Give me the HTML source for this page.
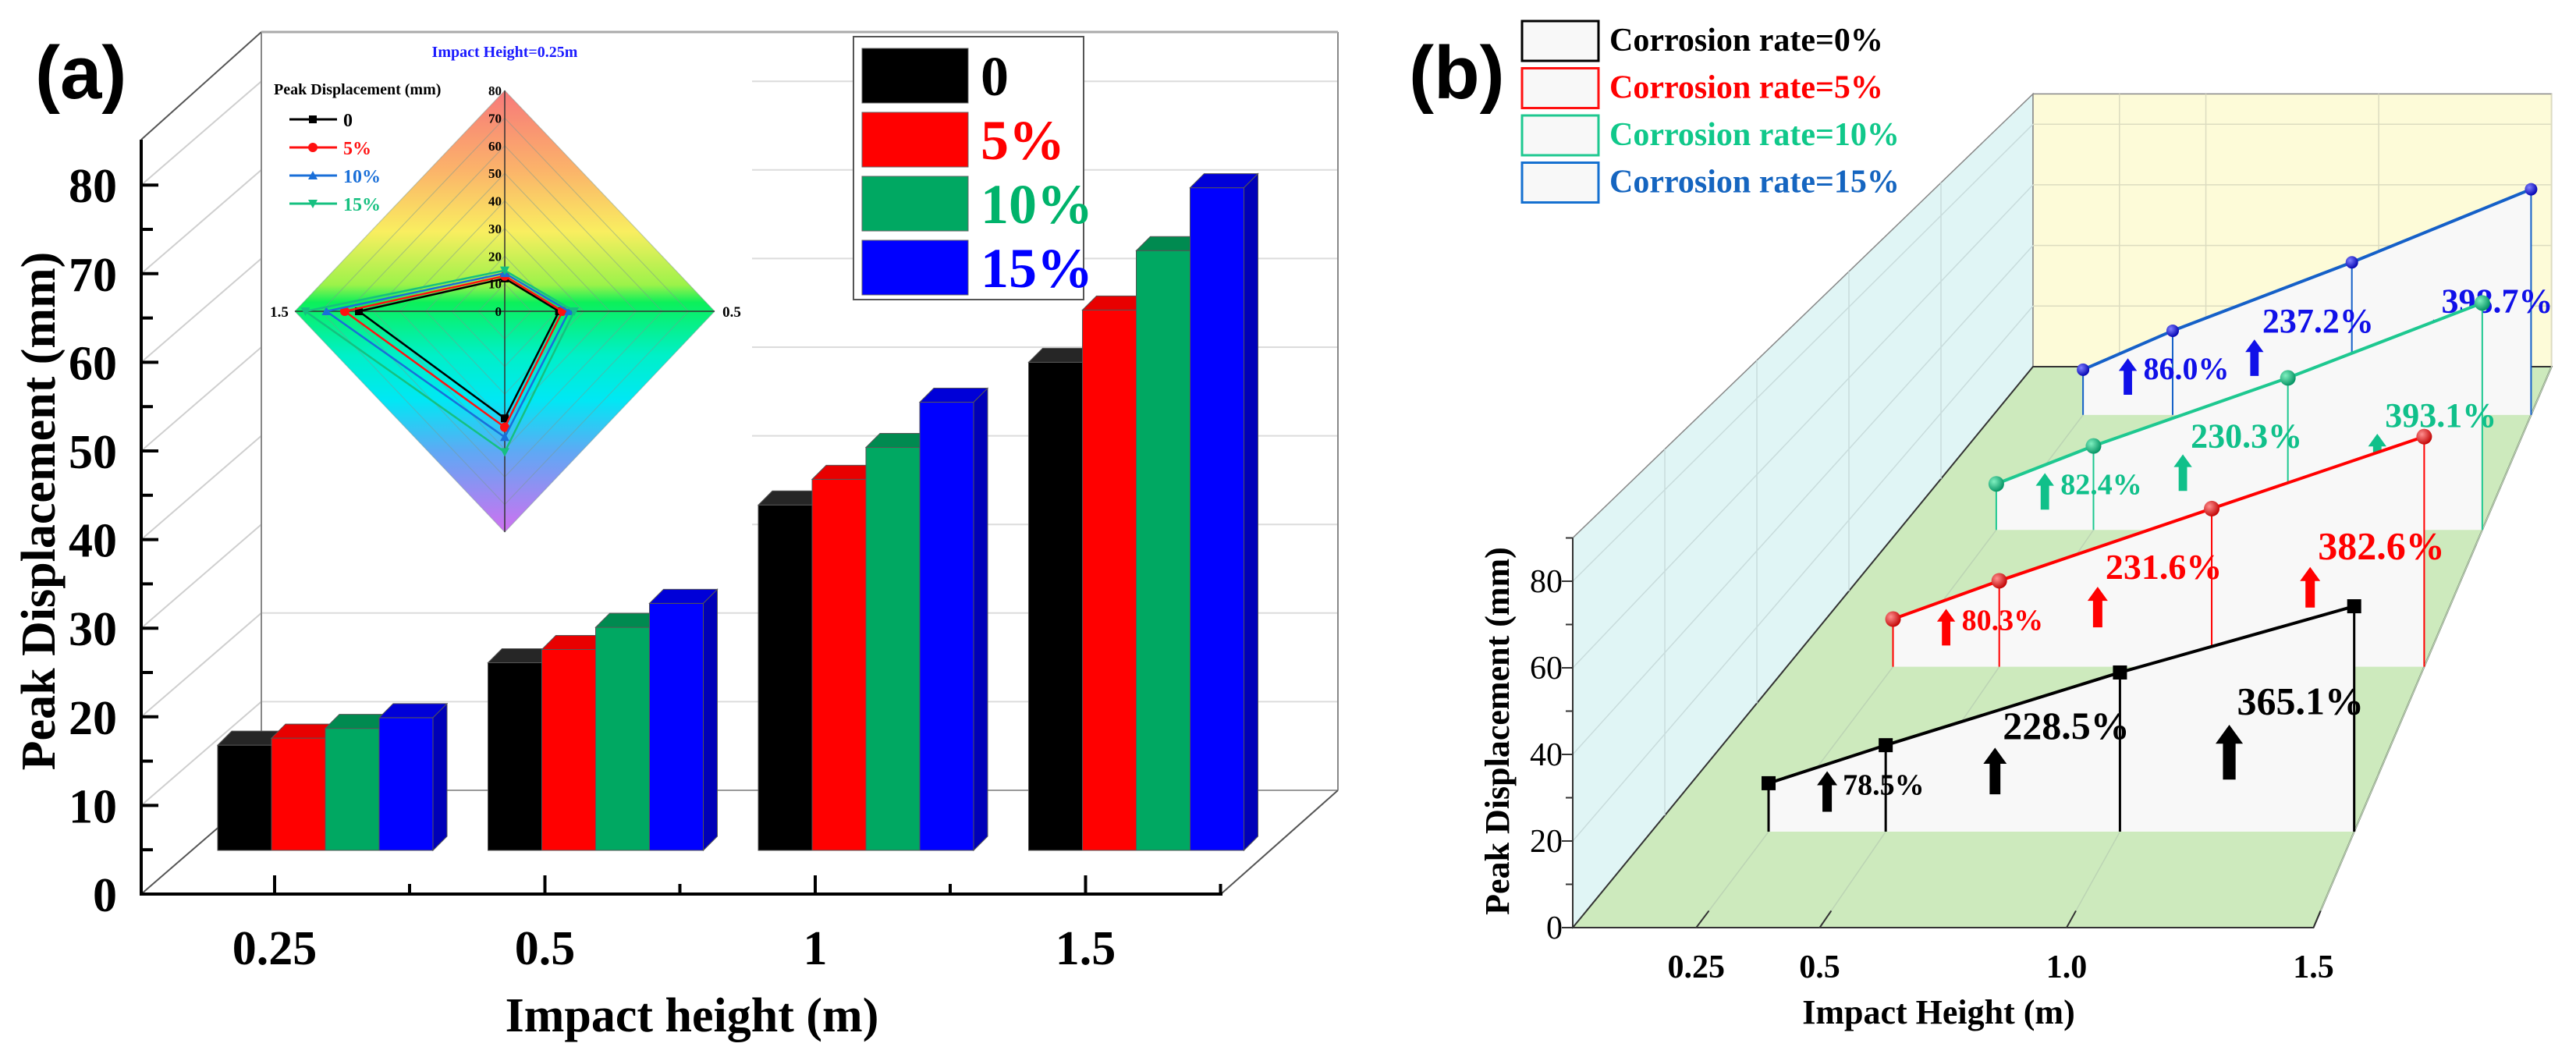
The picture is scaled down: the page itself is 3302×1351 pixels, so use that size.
<!DOCTYPE html>
<html><head><meta charset="utf-8"><style>
html,body{margin:0;padding:0;background:#fff}
svg{display:block}
text{font-family:"Liberation Serif",serif;font-weight:bold}
</style></head><body>
<svg id="fig" width="3302" height="1351" viewBox="0 0 3302 1351" xmlns="http://www.w3.org/2000/svg">
<defs>
<linearGradient id="radarGrad" x1="0" y1="0" x2="0" y2="1">
<stop offset="0" stop-color="#f7787a"/><stop offset="0.18" stop-color="#fbb36a"/>
<stop offset="0.32" stop-color="#f9ee60"/><stop offset="0.44" stop-color="#9cf24a"/>
<stop offset="0.48" stop-color="#0cf05a"/><stop offset="0.6" stop-color="#00f0c8"/>
<stop offset="0.7" stop-color="#00e8f4"/><stop offset="0.82" stop-color="#60a8f4"/>
<stop offset="1" stop-color="#d070f0"/></linearGradient>
<radialGradient id="sphBlue" cx="0.35" cy="0.35" r="0.7"><stop offset="0" stop-color="#8080ff"/><stop offset="1" stop-color="#0000b0"/></radialGradient>
<radialGradient id="sphGreen" cx="0.35" cy="0.35" r="0.7"><stop offset="0" stop-color="#80f0c0"/><stop offset="1" stop-color="#009060"/></radialGradient>
<radialGradient id="sphRed" cx="0.35" cy="0.35" r="0.7"><stop offset="0" stop-color="#ff9090"/><stop offset="1" stop-color="#c00000"/></radialGradient>
</defs>
<g id="panelA"></g>
<g id="panelB"></g>
</svg>
<script>
// ---------- Panel (a) data ----------
const barCategories = ['0.25', '0.5', '1', '1.5'];
const barSeriesNames = ['0', '5%', '10%', '15%'];
const bar0 = [16.8, 26.1, 43.9, 60.0];
const bar5 = [17.6, 27.6, 46.8, 65.9];
const bar10 = [18.7, 30.1, 50.4, 72.6];
const bar15 = [19.9, 32.8, 55.5, 79.7];
const barYTicks = [0, 10, 20, 30, 40, 50, 60, 70, 80];
// radar inset (axes: top=0.25, right=0.5, bottom=1, left=1.5)
const radarAxes = ['0.25', '0.5', '1', '1.5'];
const radar0 = [11.9, 20.7, 38.8, 55.6];
const radar5 = [12.8, 22.0, 42.0, 61.0];
const radar10 = [13.8, 24.5, 45.6, 68.0];
const radar15 = [14.8, 26.5, 51.0, 76.0];
const radarTicks = [0, 10, 20, 30, 40, 50, 60, 70, 80];
// ---------- Panel (b) data ----------
const lineX = [0.25, 0.5, 1.0, 1.5];
const line0 = [11.8, 21.06, 38.76, 54.88];
const line5 = [12.8, 23.08, 42.45, 61.77];
const line10 = [13.5, 24.62, 44.59, 66.57];
const line15 = [14.4, 26.78, 48.56, 71.81];
const lineLabels0 = ['78.5%', '228.5%', '365.1%'];
const lineLabels5 = ['80.3%', '231.6%', '382.6%'];
const lineLabels10 = ['82.4%', '230.3%', '393.1%'];
const lineLabels15 = ['86.0%', '237.2%', '398.7%'];
const lineYTicks = [0, 20, 40, 60, 80];
const lineXTicks = [0.25, 0.5, 1.0, 1.5];
const lineXTickLabels = ['0.25', '0.5', '1.0', '1.5'];

const NS = 'http://www.w3.org/2000/svg';
function mk(parent, tag, attrs, txt) {
  const e = document.createElementNS(NS, tag);
  for (const k in attrs) e.setAttribute(k, attrs[k]);
  if (txt !== undefined) e.textContent = txt;
  parent.appendChild(e);
  return e;
}
const A = document.getElementById('panelA');
const B = document.getElementById('panelB');

// ================= PANEL A =================
const yA = v => 1146 - v * 11.36;
const DX = 154, DY = -133;
barYTicks.forEach(v => {
  if (v === 0) return;
  const g = mk(A, 'line', {x1: 181, y1: yA(v), x2: 181 + DX, y2: yA(v) + DY, stroke: '#cfcfcf', 'stroke-width': 2});
  
  
  const h = mk(A, 'line', {x1: 181 + DX, y1: yA(v) + DY, x2: 1715, y2: yA(v) + DY, stroke: '#dcdcdc', 'stroke-width': 2});
  
  
});
mk(A, 'line', {x1: 335, y1: 41, x2: 335, y2: 1013, stroke: '#888', 'stroke-width': 2});
mk(A, 'line', {x1: 1715, y1: 41, x2: 1715, y2: 1013, stroke: '#888', 'stroke-width': 2});
mk(A, 'line', {x1: 335, y1: 1013, x2: 1715, y2: 1013, stroke: '#999', 'stroke-width': 2});
mk(A, 'line', {x1: 181, y1: 179, x2: 335, y2: 41, stroke: '#555', 'stroke-width': 2});
mk(A, 'line', {x1: 181, y1: 1146, x2: 335, y2: 1013, stroke: '#555', 'stroke-width': 2});
mk(A, 'line', {x1: 1565, y1: 1146, x2: 1715, y2: 1013, stroke: '#555', 'stroke-width': 2});
const insetBg = mk(A, 'rect', {x: 336, y: 43, width: 628, height: 650, fill: '#fff'});


mk(A, 'line', {x1: 335, y1: 41, x2: 1715, y2: 41, stroke: '#aaa', 'stroke-width': 3});

const barColors = ['#000000', '#ff0000', '#00a862', '#0000ff'];
const topColors = ['#262626', '#e80000', '#008a50', '#0000d8'];
const sideColors = ['#111', '#b00000', '#006a3c', '#0000b8'];
const allBars = [bar0, bar5, bar10, bar15];
const BW = 69, base = 1090, TDX = 18, TDY = -18;
barCategories.forEach((c, i) => {
  const gx = 279 + i * 346.5;
  allBars.forEach((ser, j) => {
    const x = gx + j * BW, top = yA(ser[i]);
    const r = mk(A, 'rect', {x: x, y: top, width: BW, height: base - top, fill: barColors[j], stroke: '#555', 'stroke-width': 1});
    
    
    const t = mk(A, 'polygon', {points: `${x},${top} ${x + TDX},${top + TDY} ${x + BW + TDX},${top + TDY} ${x + BW},${top}`, fill: topColors[j], stroke: '#555', 'stroke-width': 1});
    
    
    if (j === 3) {
      const s = mk(A, 'polygon', {points: `${x + BW},${top} ${x + BW + TDX},${top + TDY} ${x + BW + TDX},${base + TDY} ${x + BW},${base}`, fill: sideColors[j], stroke: '#555', 'stroke-width': 1});
      
      
    }
  });
  const tx = 352 + i * 346.5;
  const tk = mk(A, 'line', {x1: tx, y1: 1146, x2: tx, y2: 1122, stroke: '#000', 'stroke-width': 4});
  
  
  const mt = mk(A, 'line', {x1: tx + 173, y1: 1146, x2: tx + 173, y2: 1133, stroke: '#000', 'stroke-width': 4});
  
  
  const lb = mk(A, 'text', {x: tx, y: 1236, 'font-size': 62, 'text-anchor': 'middle'}, c);
  
  
});
const yAx = mk(A, 'line', {x1: 181, y1: 179, x2: 181, y2: 1148, stroke: '#000', 'stroke-width': 4});


const xAx = mk(A, 'line', {x1: 179, y1: 1146, x2: 1567, y2: 1146, stroke: '#000', 'stroke-width': 4});


barYTicks.forEach(v => {
  const t = mk(A, 'line', {x1: 181, y1: yA(v), x2: 203, y2: yA(v), stroke: '#000', 'stroke-width': 4});
  
  
  if (v < 80) mk(A, 'line', {x1: 181, y1: yA(v + 5), x2: 196, y2: yA(v + 5), stroke: '#000', 'stroke-width': 4});
  const l = mk(A, 'text', {x: 150, y: yA(v) + 22, 'font-size': 62, 'text-anchor': 'end'}, String(v));
  
  
});
const yt = mk(A, 'text', {x: 0, y: 0, 'font-size': 62, 'text-anchor': 'middle', transform: 'translate(70,655) rotate(-90)'}, 'Peak Displacement (mm)');


const xt = mk(A, 'text', {x: 887, y: 1322, 'font-size': 62, 'text-anchor': 'middle'}, 'Impact height (m)');


const pa = mk(A, 'text', {x: 45, y: 126, 'font-size': 96, style: 'font-family:"Liberation Sans",sans-serif'}, '(a)');



const lgA = mk(A, 'g', {});


mk(lgA, 'rect', {x: 1094, y: 47, width: 295, height: 337, fill: '#fff', stroke: '#555', 'stroke-width': 2});
const legTextColors = ['#000', '#ff0000', '#00b36b', '#0000ff'];
barSeriesNames.forEach((n, j) => {
  const cy = 97 + j * 82;
  const sw = mk(lgA, 'rect', {x: 1105, y: cy - 35, width: 136, height: 70, fill: barColors[j], stroke: '#666', 'stroke-width': 1});
  
  
  const tx = mk(lgA, 'text', {x: 1257, y: cy + 25, 'font-size': 72, fill: legTextColors[j]}, n);
  
  
});

const RC = {x: 647, y: 399}, RX = 269, RY = 283, RMAX = 80;
const radarPt = (k, v) => {
  const dirs = [[0, -1], [1, 0], [0, 1], [-1, 0]];
  return [RC.x + dirs[k][0] * v / RMAX * RX, RC.y + dirs[k][1] * v / RMAX * RY];
};
const rg = mk(A, 'g', {});


const rbg = mk(rg, 'polygon', {points: [0, 1, 2, 3].map(k => radarPt(k, 80).join(',')).join(' '), fill: 'url(#radarGrad)'});


radarTicks.forEach(v => {
  if (v === 0) return;
  mk(rg, 'polygon', {points: [0, 1, 2, 3].map(k => radarPt(k, v).join(',')).join(' '), fill: 'none', stroke: '#7a9a90', 'stroke-opacity': 0.45, 'stroke-width': 1.2});
});
mk(rg, 'line', {x1: RC.x, y1: RC.y - RY, x2: RC.x, y2: RC.y + RY, stroke: '#333', 'stroke-width': 1.5});
mk(rg, 'line', {x1: RC.x - RX, y1: RC.y, x2: RC.x + RX, y2: RC.y, stroke: '#333', 'stroke-width': 1.5});
radarTicks.forEach(v => {
  const l = mk(rg, 'text', {x: RC.x - 4, y: RC.y - v / RMAX * RY + 6, 'font-size': 17, 'text-anchor': 'end'}, String(v));
  
  
});
mk(rg, 'text', {x: 358, y: 406, 'font-size': 19, 'text-anchor': 'middle'}, radarAxes[3]);
mk(rg, 'text', {x: 938, y: 406, 'font-size': 19, 'text-anchor': 'middle'}, radarAxes[1]);
const rt = mk(rg, 'text', {x: 647, y: 73, 'font-size': 20, 'text-anchor': 'middle', fill: '#1a1aff'}, 'Impact Height=0.25m');


const radarSeries = [radar0, radar5, radar10, radar15];
const radarColors = ['#000', '#ff1010', '#1a6fd8', '#16c080'];
const radarNames = ['0', '5%', '10%', '15%'];
function marker(g, k, x, y, c, s) {
  if (k === 0) return mk(g, 'rect', {x: x - s, y: y - s, width: 2 * s, height: 2 * s, fill: c});
  if (k === 1) return mk(g, 'circle', {cx: x, cy: y, r: s + 1, fill: c});
  if (k === 2) return mk(g, 'polygon', {points: `${x},${y - s - 1} ${x - s - 1},${y + s} ${x + s + 1},${y + s}`, fill: c});
  return mk(g, 'polygon', {points: `${x},${y + s + 1} ${x - s - 1},${y - s} ${x + s + 1},${y - s}`, fill: c});
}
radarSeries.forEach((ser, j) => {
  const pts = ser.map((v, k) => radarPt(k, v));
  const p = mk(rg, 'polygon', {points: pts.map(q => q.join(',')).join(' '), fill: 'none', stroke: radarColors[j], 'stroke-width': 2.5});
  
  
  pts.forEach(q => marker(rg, j, q[0], q[1], radarColors[j], 5));
});
mk(rg, 'text', {x: 351, y: 121, 'font-size': 20}, 'Peak Displacement (mm)');
radarNames.forEach((n, j) => {
  const cy = 153 + j * 36;
  mk(rg, 'line', {x1: 371, y1: cy, x2: 432, y2: cy, stroke: radarColors[j], 'stroke-width': 3});
  marker(rg, j, 401, cy, radarColors[j], 5);
  const t = mk(rg, 'text', {x: 440, y: cy + 9, 'font-size': 24, fill: radarColors[j]}, n);
  
  
});

// ================= PANEL B =================
const FX = 2016, FY = 1189, SX = 633, SY = 5.55, DDX = 590, DDY = 719, SHR = 0.3;
const P = (h, v, d) => [FX + d * DDX + h * SX * (1 - SHR * d), FY - d * DDY - v * SY * (1 - SHR * d)];
const pts = a => a.map(p => p.join(',')).join(' ');
const VMAX = 90, HMAX = 1.5;
const lw = mk(B, 'polygon', {points: pts([P(0, 0, 0), P(0, VMAX, 0), P(0, VMAX, 1), P(0, 0, 1)]), fill: '#e0f5f5', stroke: '#888', 'stroke-width': 1.5});


const bw = mk(B, 'polygon', {points: pts([P(0, 0, 1), P(0, VMAX, 1), P(HMAX, VMAX, 1), P(HMAX, 0, 1)]), fill: '#fdfbd8', stroke: '#888', 'stroke-width': 1.5});


const fl = mk(B, 'polygon', {points: pts([P(0, 0, 0), P(HMAX, 0, 0), P(HMAX, 0, 1), P(0, 0, 1)]), fill: '#cdeabd', stroke: '#333', 'stroke-width': 2});


[0.2, 0.4, 0.6, 0.8].forEach(d => {
  const a = P(0, 0, d), b = P(0, VMAX, d);
  mk(B, 'line', {x1: a[0], y1: a[1], x2: b[0], y2: b[1], stroke: '#c8dcdc', 'stroke-width': 1.5});
});
lineYTicks.forEach(v => {
  if (v === 0) return;
  const a = P(0, v, 0), b = P(0, v, 1), c = P(HMAX, v, 1);
  mk(B, 'line', {x1: a[0], y1: a[1], x2: b[0], y2: b[1], stroke: '#c8dcdc', 'stroke-width': 1.5});
  mk(B, 'line', {x1: b[0], y1: b[1], x2: c[0], y2: c[1], stroke: '#dcdcc0', 'stroke-width': 1.5});
});
lineXTicks.forEach(h => {
  const a = P(h, 0, 0), b = P(h, 0, 1), c = P(h, VMAX, 1);
  mk(B, 'line', {x1: a[0], y1: a[1], x2: b[0], y2: b[1], stroke: '#bcd4b4', 'stroke-width': 1.5});
  mk(B, 'line', {x1: b[0], y1: b[1], x2: c[0], y2: c[1], stroke: '#dcdcc0', 'stroke-width': 1.5});
});
const yb = mk(B, 'line', {x1: FX, y1: P(0, VMAX, 0)[1], x2: FX, y2: FY, stroke: '#333', 'stroke-width': 2});


for (let v = 0; v <= 90; v += 10) {
  const y = P(0, v, 0)[1];
  mk(B, 'line', {x1: FX - (v % 20 === 0 ? 14 : 9), y1: y, x2: FX, y2: y, stroke: '#333', 'stroke-width': 2});
}
lineYTicks.forEach(v => {
  const l = mk(B, 'text', {x: 2003, y: P(0, v, 0)[1] + 14, 'font-size': 42, style: 'font-weight:normal', 'text-anchor': 'end'}, String(v));
  
  
});
lineXTicks.forEach((h, i) => {
  const a = P(h, 0, 0), b = P(h, 0, 0.03);
  mk(B, 'line', {x1: a[0], y1: a[1], x2: b[0], y2: b[1], stroke: '#333', 'stroke-width': 2});
  const l = mk(B, 'text', {x: a[0], y: 1253, 'font-size': 42, 'text-anchor': 'middle'}, lineXTickLabels[i]);
  
  
});
const ytb = mk(B, 'text', {x: 0, y: 0, 'font-size': 44, 'text-anchor': 'middle', transform: 'translate(1934,937) rotate(-90)'}, 'Peak Displacement (mm)');


const xtb = mk(B, 'text', {x: 2485, y: 1312, 'font-size': 44, 'text-anchor': 'middle'}, 'Impact Height (m)');


const pb = mk(B, 'text', {x: 1806, y: 126, 'font-size': 96, style: 'font-family:"Liberation Sans",sans-serif'}, '(b)');



const lineSeries = [line0, line5, line10, line15];
const lineDepths = [0.171, 0.465, 0.709, 0.914];
const lineColors = ['#000', '#ff0000', '#1ec890', '#1560c8'];
const labelColors = ['#000', '#ff0000', '#10c08a', '#1010e8'];
const markerFills = ['#000', 'url(#sphRed)', 'url(#sphGreen)', 'url(#sphBlue)'];
const lineLabels = [lineLabels0, lineLabels5, lineLabels10, lineLabels15];
const labelSizes = [[38, 50, 50], [38, 46, 50], [38, 44, 44], [40, 44, 44]];
const arrowScale = [[1, 1.15, 1.35], [0.9, 1, 1], [0.9, 0.9, 0.9], [0.9, 0.9, 0.9]];
const lineNames = ['0', '5', '10', '15'];
[3, 2, 1, 0].forEach(j => {
  const ser = lineSeries[j], d = lineDepths[j];
  const g = mk(B, 'g', {});
  
  
  const p = ser.map((v, i) => P(lineX[i], v, d));
  const b0 = P(lineX[0], 0, d), b1 = P(lineX[lineX.length - 1], 0, d);
  mk(g, 'polygon', {points: pts([b0, ...p, b1]), fill: '#f8f8f8'});
  p.forEach((q, i) => {
    const bb = P(lineX[i], 0, d);
    mk(g, 'line', {x1: q[0], y1: q[1], x2: bb[0], y2: bb[1], stroke: lineColors[j], 'stroke-width': j === 0 ? 3 : 2});
  });
  const pl = mk(g, 'polyline', {points: pts(p), fill: 'none', stroke: lineColors[j], 'stroke-width': 4});
  
  
  p.forEach(q => {
    let m;
    if (j === 0) m = mk(g, 'rect', {x: q[0] - 9, y: q[1] - 9, width: 18, height: 18, fill: '#000'});
    else m = mk(g, 'circle', {cx: q[0], cy: q[1], r: j === 3 ? 8 : 10, fill: markerFills[j]});
    
    
  });
  for (let i = 1; i < ser.length; i++) {
    const hMid = (lineX[i - 1] + lineX[i]) / 2;
    const vArrow = (ser[0] + ser[i]) / 2 * 0.55;
    const a = P(hMid, vArrow, d);
    const s = arrowScale[j][i - 1];
    const ax = a[0] - (i === 1 ? 0 : 10), ay = a[1];
    const ar = mk(g, 'polygon', {points: `${ax},${ay - 30 * s} ${ax + 13 * s},${ay - 12 * s} ${ax + 6 * s},${ay - 12 * s} ${ax + 6 * s},${ay + 22 * s} ${ax - 6 * s},${ay + 22 * s} ${ax - 6 * s},${ay - 12 * s} ${ax - 13 * s},${ay - 12 * s}`, fill: labelColors[j]});
    
    
    const t = mk(g, 'text', {x: ax + (i === 1 ? 20 : 10), y: ay - (i === 1 ? 0 : 40 * s), 'font-size': labelSizes[j][i - 1], fill: labelColors[j]}, lineLabels[j][i - 1]);
    
    
  }
});
const lgB = mk(B, 'g', {});


const legBColors = ['#000', '#ff1010', '#1ec890', '#1570d0'];
const legBText = ['#000', '#ff0000', '#10c88a', '#1565c0'];
['Corrosion rate=0%', 'Corrosion rate=5%', 'Corrosion rate=10%', 'Corrosion rate=15%'].forEach((n, j) => {
  const y = 27 + j * 60.5;
  const r = mk(lgB, 'rect', {x: 1951, y: y, width: 98, height: 51, fill: '#f8f8f8', stroke: legBColors[j], 'stroke-width': 3});
  
  
  const t = mk(lgB, 'text', {x: 2063, y: y + 38, 'font-size': 42, fill: legBText[j]}, n);
  
  
});
</script>
</body></html>
